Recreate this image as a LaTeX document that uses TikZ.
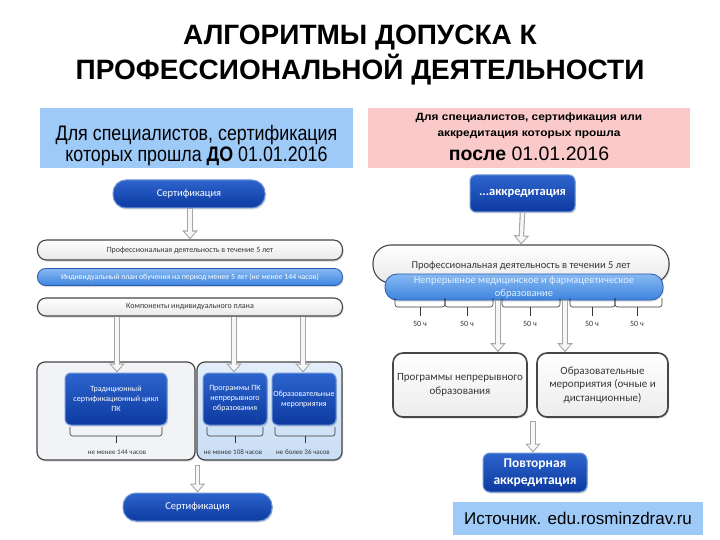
\documentclass[tikz,border=0pt]{standalone}
\usepackage{fontspec}
\setmainfont{Liberation Sans}
\newfontfamily\dfont{Carlito}
\newfontfamily\narrowfont[FakeStretch=0.85]{Liberation Sans}
\newfontfamily\widefont[FakeStretch=1.13]{Liberation Sans}
\usetikzlibrary{shadows,arrows.meta,calc}
\definecolor{hblue}{RGB}{158,202,248}
\definecolor{hpink}{RGB}{250,202,202}
\definecolor{dbtop}{RGB}{45,100,205}
\definecolor{dbbot}{RGB}{12,58,160}
\definecolor{dbline}{RGB}{110,150,215}
\definecolor{lbtop}{RGB}{135,185,242}
\definecolor{lbbot}{RGB}{62,132,222}
\definecolor{lbline}{RGB}{40,90,180}
\definecolor{txtg}{RGB}{55,55,55}
\definecolor{frameg}{RGB}{70,70,70}
\newcommand\hollowarrow[2]{%
  \draw[harrowout] (#1) -- (#2);
  \draw[harrowin] (#1) -- (#2);}
\begin{document}
\begin{tikzpicture}[x=1pt,y=-1pt,
  harrowout/.style={line width=5.5pt, draw=gray!70, -{Triangle[length=9pt,width=15pt]}},
  harrowin/.style={line width=3.3pt, draw=gray!6, -{Triangle[length=6.2pt,width=10.8pt]}, shorten <=0.6pt, shorten >=1.7pt},
  shd/.style={drop shadow={shadow xshift=1pt,shadow yshift=-1.5pt,opacity=0.3}},
  darkpill/.style={shd, draw=dbline, line width=1pt, top color=dbtop, bottom color=dbbot, text=white, font=\dfont\fontsize{10.5}{12}\selectfont, inner sep=0pt},
  whitepill/.style={shd, draw=frameg, line width=1.1pt, top color=white, bottom color=gray!18, text=txtg, inner sep=0pt},
  bluepill/.style={shd, draw=lbline, line width=0.8pt, top color=lbtop, bottom color=lbbot, inner sep=0pt},
  innerbox/.style={shd, draw=dbline, line width=1pt, top color=dbtop, bottom color=dbbot, text=white, rounded corners=6pt, inner sep=0pt, align=center, font=\dfont\fontsize{8}{10}\selectfont},
  whitebox/.style={shd, draw=frameg, line width=1.6pt, top color=white, bottom color=gray!15, text=txtg, rounded corners=10pt, inner sep=0pt, align=center, font=\dfont\fontsize{11}{13.5}\selectfont},
  smalllab/.style={text=txtg, font=\dfont\fontsize{7}{8}\selectfont, inner sep=0pt},
  hlab/.style={text=txtg, font=\dfont\fontsize{8}{9}\selectfont, inner sep=0pt},
  brace/.style={draw=txtg, line width=0.6pt, rounded corners=2.5pt}
]
\useasboundingbox (0,0) rectangle (720,540);
\fill[white] (0,0) rectangle (720,540);

% Title
\node[font=\bfseries\fontsize{28}{35}\selectfont, align=center, inner sep=0pt] (title) at (360,55)
  {АЛГОРИТМЫ ДОПУСКА К\\ПРОФЕССИОНАЛЬНОЙ ДЕЯТЕЛЬНОСТИ};

% Header boxes
\node[fill=hblue, minimum width=313pt, minimum height=60pt, inner sep=0pt] (hb1) at (196.5,138) {};
\node[align=center, inner sep=0pt, font=\narrowfont\fontsize{21}{21}\selectfont] (hb1t) at (196.5,146)
  {Для специалистов, сертификация\\которых прошла \textbf{ДО} 01.01.2016};
\node[fill=hpink, minimum width=322pt, minimum height=60pt, inner sep=0pt] (hb2) at (529,138) {};
\node[font=\widefont\bfseries\fontsize{10.5}{15.5}\selectfont, align=center, inner sep=0pt] (hb2a) at (529,126)
  {Для специалистов, сертификация или\\аккредитация которых прошла};
\node[font=\fontsize{19.5}{22}\selectfont, inner sep=0pt, anchor=base] (hb2b) at (529,161) {\textbf{после} 01.01.2016};

% ===== Left diagram =====
\node[darkpill, minimum width=152pt, minimum height=28pt, rounded corners=13pt] (sc1) at (189,194) {Сертификация};
\node[whitepill, minimum width=305pt, minimum height=20pt, rounded corners=9pt, font=\dfont\fontsize{8}{9}\selectfont] (bar1) at (190,250)
  {Профессиональная деятельность в течение 5 лет};
\node[bluepill, minimum width=305pt, minimum height=17pt, rounded corners=8pt, text=white, font=\dfont\fontsize{7.8}{9}\selectfont] (bar2) at (190,277)
  {Индивидуальный план обучения на период менее 5 лет (не менее 144 часов)};
\node[whitepill, minimum width=305pt, minimum height=18pt, rounded corners=8.5pt, font=\dfont\fontsize{8}{9}\selectfont] (bar3) at (190,307)
  {Компоненты индивидуального плана};

\node[shd, draw=frameg, line width=1.2pt, fill={rgb,255:red,241;green,243;blue,247}, rounded corners=8pt,
  minimum width=158pt, minimum height=98pt] (cL) at (116,411) {};
\node[shd, draw=frameg, line width=1.2pt, top color={rgb,255:red,228;green,238;blue,250}, bottom color={rgb,255:red,200;green,221;blue,245}, rounded corners=8pt,
  minimum width=145pt, minimum height=98pt] (cR) at (269.5,411) {};

\node[innerbox, minimum width=102pt, minimum height=52pt] (in1) at (116,399) {Традиционный\\сертификационный цикл\\ПК};
\node[innerbox, minimum width=64pt, minimum height=52pt] (in2) at (235,399) {Программы ПК\\непрерывного\\образования};
\node[innerbox, minimum width=64pt, minimum height=52pt] (in3) at (304,399) {Образовательные\\мероприятия};

\hollowarrow{sc1.south -| bar1.north}{bar1.north}
\coordinate (a1) at (117,0);
\coordinate (a2) at (234,0);
\coordinate (a3) at (303,0);
\hollowarrow{bar3.south -| a1}{in1.north -| a1}
\hollowarrow{bar3.south -| a2}{in2.north -| a2}
\hollowarrow{bar3.south -| a3}{in3.north -| a3}

% braces left
\draw[brace] (70,427) -- (70,436) -- (162,436) -- (162,427);
\draw[brace] (116,436) -- (116,443);
\draw[brace] (207,427) -- (207,436) -- (263,436) -- (263,427);
\draw[brace] (235,436) -- (235,443);
\draw[brace] (275,427) -- (275,436) -- (335,436) -- (335,427);
\draw[brace] (305,436) -- (305,443);
\node[smalllab] (l1) at (117,452) {не менее 144 часов};
\node[smalllab] (l2) at (233,452) {не менее 108 часов};
\node[smalllab] (l3) at (303,452) {не более 36 часов};

\node[darkpill, minimum width=149pt, minimum height=28pt, rounded corners=13pt] (sc2) at (197.5,507) {Сертификация};
\coordinate (ab) at (197.5,465);
\hollowarrow{ab}{sc2.north}

% ===== Right diagram =====
\node[darkpill, minimum width=105pt, minimum height=37pt, rounded corners=6pt, font=\dfont\bfseries\fontsize{12.5}{14}\selectfont] (akk) at (522.5,193.5) {...аккредитация};
\node[whitepill, minimum width=296pt, minimum height=38pt, rounded corners=18pt] (prof) at (521,264) {};
\node[text=txtg, font=\dfont\fontsize{10.5}{12}\selectfont, inner sep=0pt] (proft) at (521,266)
  {Профессиональная деятельность в течении 5 лет};
\hollowarrow{akk.south}{prof.north}
\node[bluepill, minimum width=278pt, minimum height=26pt, rounded corners=12pt] (nmo) at (524,287) {};
\node[text={rgb,255:red,225;green,238;blue,255}, align=center, font=\dfont\fontsize{10.5}{13.5}\selectfont, inner sep=0pt] (nmot) at (524,287.5)
  {Непрерывное медицинское и фармацевтическое\\образование};

% braces right
\draw[brace] (395,298) -- (395,307) -- (445,307) -- (445,298);
\draw[brace] (445,298) -- (445,307) -- (493,307) -- (493,298);
\draw[brace] (502,298) -- (502,307) -- (560,307) -- (560,298);
\draw[brace] (570,298) -- (570,307) -- (615,307) -- (615,298);
\draw[brace] (615,298) -- (615,307) -- (662,307) -- (662,298);
\draw[brace] (420,307) -- (420,316);
\draw[brace] (467,307) -- (467,316);
\draw[brace] (530,307) -- (530,316);
\draw[brace] (592,307) -- (592,316);
\draw[brace] (637,307) -- (637,316);
\node[hlab] (h1) at (420,324) {50 ч};
\node[hlab] (h2) at (467,324) {50 ч};
\node[hlab] (h3) at (530,324) {50 ч};
\node[hlab] (h4) at (592,324) {50 ч};
\node[hlab] (h5) at (637,324) {50 ч};

\node[whitebox, minimum width=134pt, minimum height=64pt] (pr1) at (460,385) {Программы непрерывного\\образования};
\node[whitebox, minimum width=131pt, minimum height=64pt] (pr2) at (602.5,385) {Образовательные\\мероприятия (очные и\\дистанционные)};
\coordinate (b1) at (498,0);
\coordinate (b2) at (565,0);
\hollowarrow{nmo.south -| b1}{pr1.north -| b1}
\hollowarrow{nmo.south -| b2}{pr2.north -| b2}

\node[darkpill, minimum width=104pt, minimum height=39pt, rounded corners=7pt, align=center, font=\dfont\bfseries\fontsize{13.5}{16.5}\selectfont] (pov) at (535,472.5) {Повторная\\аккредитация};
\coordinate (c1) at (533,421);
\hollowarrow{c1}{pov.north -| c1}

% Source
\node[fill=hblue, minimum width=250pt, minimum height=33pt, inner sep=0pt, font=\fontsize{17}{20}\selectfont] (src) at (578,518.5)
  {Источник. edu.rosminzdrav.ru};
\end{tikzpicture}
\end{document}
